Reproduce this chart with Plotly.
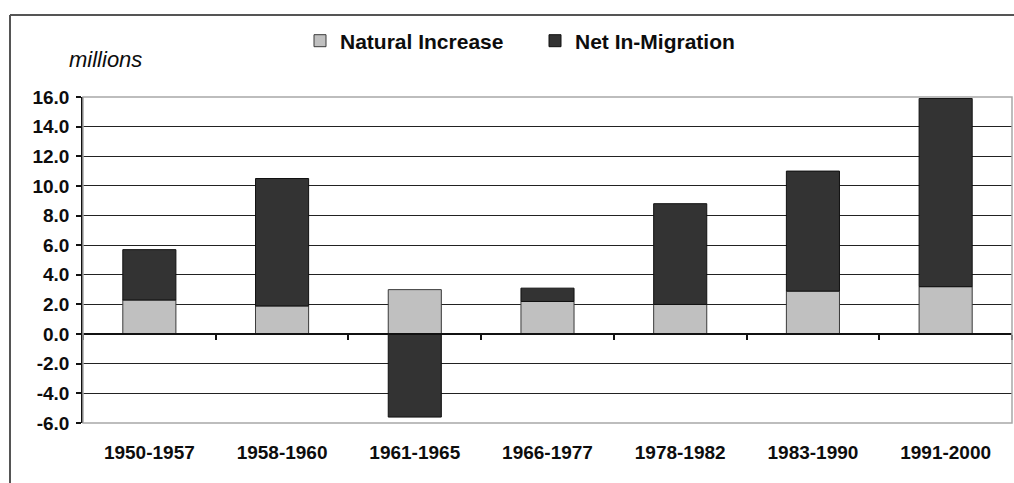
import plotly.graph_objects as go

periods = ["1950-1957", "1958-1960", "1961-1965", "1966-1977", "1978-1982", "1983-1990", "1991-2000"]
natural_increase = [2.3, 1.9, 3.0, 2.2, 2.0, 2.9, 3.2]
net_in_migration = [3.4, 8.6, -5.6, 0.9, 6.8, 8.1, 12.7]
y_tick_values = [-6, -4, -2, 0, 2, 4, 6, 8, 10, 12, 14, 16]
y_tick_labels = ["-6.0", "-4.0", "-2.0", "0.0", "2.0", "4.0", "6.0", "8.0", "10.0", "12.0", "14.0", "16.0"]

FONT = "Liberation Sans, Arial, sans-serif"
TXT = "#0d0d0d"

fig = go.Figure()
fig.add_trace(go.Bar(
    x=periods, y=natural_increase, name="Natural Increase",
    marker=dict(color="#c0c0c0", line=dict(color="#3a3a3a", width=1)),
    hoverinfo="x+y",
))
fig.add_trace(go.Bar(
    x=periods, y=net_in_migration, name="Net In-Migration",
    marker=dict(color="#333333", line=dict(color="#111111", width=1)),
    hoverinfo="x+y",
))
# invisible helper trace carrying the category axis drawn along y = 0
fig.add_trace(go.Scatter(
    x=periods, y=[0] * len(periods), xaxis="x2", yaxis="y",
    mode="markers", marker=dict(opacity=0), showlegend=False, hoverinfo="skip",
))

fig.update_layout(
    width=1014, height=483,
    margin=dict(l=83, r=2, t=97, b=60, autoexpand=False),
    paper_bgcolor="white", plot_bgcolor="white",
    barmode="relative", bargap=0.6,
    font=dict(family=FONT, color=TXT),
    showlegend=True,
    legend=dict(
        orientation="h", x=(300 - 83) / 929, xanchor="left",
        y=(423.3 - 41) / 326.3, yanchor="middle",
        font=dict(family=FONT, size=21, weight="bold", color=TXT),
        entrywidth=190, entrywidthmode="pixels",
        bgcolor="rgba(0,0,0,0)", itemclick=False, itemdoubleclick=False,
    ),
    xaxis=dict(
        type="category", categoryorder="array", categoryarray=periods,
        range=[-0.5, 6.5], showline=False, ticks="", showgrid=False, zeroline=False,
        tickfont=dict(family=FONT, size=19, weight="bold", color=TXT),
        ticklabelstandoff=16,
    ),
    xaxis2=dict(
        type="category", categoryorder="array", categoryarray=periods,
        range=[-0.5, 6.5], overlaying="x", anchor="free", position=6 / 22,
        showline=True, linecolor="#111111", linewidth=1.5,
        ticks="outside", tickson="boundaries", ticklen=5, tickcolor="#111111", tickwidth=1.5,
        showticklabels=False, showgrid=False, zeroline=False,
    ),
    yaxis=dict(
        range=[-6, 16], tickvals=y_tick_values, ticktext=y_tick_labels,
        showline=True, linecolor="#111111", linewidth=1.5,
        ticks="outside", ticklen=5, tickcolor="#111111", tickwidth=1.5,
        showgrid=True, gridcolor="#222222", gridwidth=1.2, zeroline=False,
        tickfont=dict(family=FONT, size=19, weight="bold", color=TXT),
        ticklabelstandoff=3,
    ),
    annotations=[dict(
        text="millions", xref="paper", yref="paper",
        x=(67 - 83) / 929, y=(423.3 - 59) / 326.3, xanchor="left", yanchor="middle",
        showarrow=False, font=dict(family=FONT, size=22, style="italic", color=TXT),
    )],
    shapes=[
        # plot-area border (light gray)
        dict(type="rect", xref="paper", yref="paper", x0=0, x1=1, y0=0, y1=1,
             line=dict(color="#a8a8a8", width=1.5), layer="above"),
        # outer chart frame (top and left edges)
        dict(type="line", xref="paper", yref="paper",
             x0=(10 - 83) / 929, x1=(1016 - 83) / 929,
             y0=(423.3 - 15) / 326.3, y1=(423.3 - 15) / 326.3,
             line=dict(color="#555555", width=2)),
        dict(type="line", xref="paper", yref="paper",
             x0=(10 - 83) / 929, x1=(10 - 83) / 929,
             y0=(423.3 - 15) / 326.3, y1=(423.3 - 490) / 326.3,
             line=dict(color="#555555", width=2)),
    ],
)

fig.write_html(
    "out.html",
    config={"displayModeBar": False},
    post_script="document.body.style.margin='0';document.body.style.overflow='hidden';",
)
